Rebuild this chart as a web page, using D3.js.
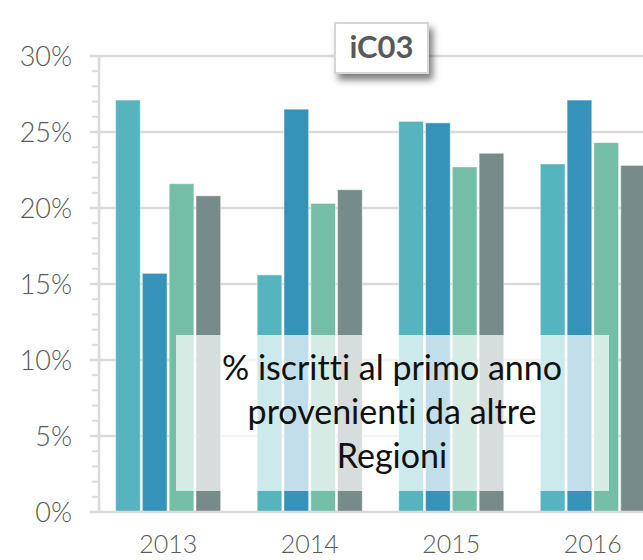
<!DOCTYPE html>
<html>
<head>
<meta charset="utf-8">
<script src="https://cdn.jsdelivr.net/npm/d3@7"></script>
<style>
  html, body { margin: 0; padding: 0; background: #fff; }
  #chart { width: 643px; height: 560px; overflow: hidden; }
</style>
</head>
<body>
<div id="chart"></div>
<script>
// values (percent)
const years = ["2013", "2014", "2015", "2016"];
const seriesA = [27.1, 15.6, 25.7, 22.9];
const seriesB = [15.7, 26.5, 25.6, 27.1];
const seriesC = [21.6, 20.3, 22.7, 24.3];
const seriesD = [20.8, 21.2, 23.6, 22.8];
const seriesKeys = ["a", "b", "c", "d"];
const seriesColors = ["#56b4bf", "#3592b9", "#74bda6", "#788b8b"];
const yTicks = [0, 5, 10, 15, 20, 25, 30];
const titleText = "iC03";
const noteLines = ["% iscritti al primo anno", "provenienti da altre", "Regioni"];

const data = years.map((y, i) => ({
    year: y, a: seriesA[i], b: seriesB[i], c: seriesC[i], d: seriesD[i]
}));

const width = 643, height = 560;
const axisX = 99, baseY = 512, topY = 56;

const svg = d3.select("#chart").append("svg")
    .attr("width", width)
    .attr("height", height)
    .attr("viewBox", `0 0 ${width} ${height}`);

const defs = svg.append("defs");
const shadow = defs.append("filter").attr("id", "shadow")
    .attr("x", "-20%").attr("y", "-30%").attr("width", "150%").attr("height", "180%");
shadow.append("feDropShadow")
    .attr("dx", 4).attr("dy", 6).attr("stdDeviation", 3.5)
    .attr("flood-color", "#000").attr("flood-opacity", 0.5);

const y = d3.scaleLinear().domain([0, 30]).range([baseY, topY]);

const x0 = d3.scaleBand()
    .domain(years)
    .range([97.5, 663.5])
    .paddingInner(0.258)
    .paddingOuter(0.128);

const x1 = d3.scaleBand()
    .domain(seriesKeys)
    .range([0, x0.bandwidth()])
    .paddingInner(0.08);

const color = d3.scaleOrdinal().domain(seriesKeys).range(seriesColors);

// gridlines
svg.append("g").selectAll("line")
    .data(yTicks.filter(t => t > 0))
    .join("line")
    .attr("x1", axisX - 9).attr("x2", width)
    .attr("y1", d => y(d)).attr("y2", d => y(d))
    .attr("stroke", "#dadada").attr("stroke-width", 2.5);

// minor ticks every 1%
svg.append("g").selectAll("line")
    .data(d3.range(0, 31).filter(v => v % 5 !== 0))
    .join("line")
    .attr("x1", axisX - 7).attr("x2", axisX)
    .attr("y1", d => y(d)).attr("y2", d => y(d))
    .attr("stroke", "#dadada").attr("stroke-width", 2);

// bars
svg.append("g").selectAll("g")
    .data(data)
    .join("g")
    .attr("transform", d => `translate(${x0(d.year)},0)`)
    .selectAll("rect")
    .data(d => seriesKeys.map(k => ({ key: k, value: d[k] })))
    .join("rect")
    .attr("x", d => x1(d.key))
    .attr("y", d => y(d.value))
    .attr("width", x1.bandwidth())
    .attr("height", d => baseY - y(d.value))
    .attr("fill", d => color(d.key))
    .attr("stroke", "#fff")
    .attr("stroke-opacity", 0.45)
    .attr("stroke-width", 1);

// axis lines
svg.append("line")
    .attr("x1", axisX).attr("x2", axisX)
    .attr("y1", topY).attr("y2", baseY)
    .attr("stroke", "#dadada").attr("stroke-width", 2.5);
svg.append("line")
    .attr("x1", axisX - 9).attr("x2", width)
    .attr("y1", baseY).attr("y2", baseY)
    .attr("stroke", "#dadada").attr("stroke-width", 2.5);

// y labels
svg.append("g").selectAll("text")
    .data(yTicks)
    .join("text")
    .attr("x", 72)
    .attr("y", d => y(d))
    .attr("dy", "0.36em")
    .attr("text-anchor", "end")
    .attr("font-family", "Lato, 'DejaVu Sans', sans-serif")
    .attr("font-weight", 300)
    .attr("font-size", 27)
    .attr("fill", "#595959")
    .text(d => d + "%");

// x labels
svg.append("g").selectAll("text")
    .data(years)
    .join("text")
    .attr("x", d => x0(d) + x0.bandwidth() / 2)
    .attr("y", 553)
    .attr("text-anchor", "middle")
    .attr("font-family", "Lato, 'DejaVu Sans', sans-serif")
    .attr("font-weight", 300)
    .attr("font-size", 25)
    .attr("fill", "#595959")
    .text(d => d);

// note box
svg.append("rect")
    .attr("x", 176).attr("y", 335)
    .attr("width", 433).attr("height", 156)
    .attr("fill", "#fff").attr("fill-opacity", 0.7);

svg.append("text")
    .attr("text-anchor", "middle")
    .attr("font-family", "Lato, 'Open Sans', sans-serif")
    .attr("font-size", 34)
    .attr("fill", "#111")
    .style("font-variant-ligatures", "none")
    .selectAll("tspan")
    .data(noteLines)
    .join("tspan")
    .attr("x", 392)
    .attr("y", (d, i) => 380 + i * 44)
    .text(d => d);

// title box
const tb = svg.append("g");
tb.append("rect")
    .attr("x", 335).attr("y", 23)
    .attr("width", 93).attr("height", 50)
    .attr("fill", "#fff")
    .attr("stroke", "#d6d6d6").attr("stroke-width", 2)
    .attr("filter", "url(#shadow)");
tb.append("text")
    .attr("x", 381.5).attr("y", 58)
    .attr("text-anchor", "middle")
    .attr("font-family", "Lato, 'Open Sans', sans-serif")
    .attr("font-weight", 700)
    .attr("font-size", 31)
    .attr("fill", "#595959")
    .text(titleText);
</script>
</body>
</html>
